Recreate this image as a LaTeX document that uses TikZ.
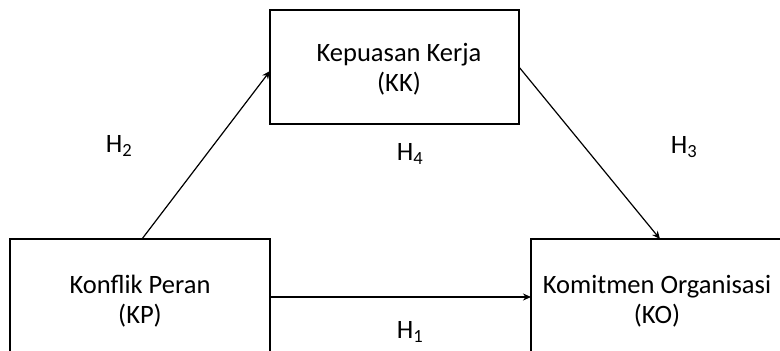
\documentclass[tikz,border=0pt]{standalone}
\usepackage{fontspec}
\setmainfont{Carlito}
\usetikzlibrary{arrows.meta}
\begin{document}
\begin{tikzpicture}[x=1pt,y=-1pt,
  box/.style={draw=black,line width=1.3pt,fill=white},
  lbl/.style={font=\fontsize{26.5}{30}\selectfont,align=center,inner sep=0pt},
  hyp/.style={font=\fontsize{26.5}{30}\selectfont,inner sep=0pt},
  conn/.style={line width=1.2pt,-{Stealth[length=8pt,width=7pt]}}]
\useasboundingbox (0,0) rectangle (780,351);
\clip (0,0) rectangle (780,351);
\draw[box] (270,10) rectangle (519,124);
\draw[box] (10,239) rectangle (270,400);
\draw[box] (531,239) rectangle (820,400);
\node[lbl] (kkt) at (399,69) {Kepuasan Kerja\\(KK)};
\node[lbl] (kpt) at (140,301) {Konflik Peran\\(KP)};
\node[lbl] (kot) at (657,301) {Komitmen Organisasi\\(KO)};
\coordinate (kpTop) at (142,239);
\coordinate (kkLeft) at (270,71);
\coordinate (kkRight) at (519,67);
\coordinate (koTop) at (660,239);
\coordinate (kpRight) at (270,297);
\coordinate (koLeft) at (531,297);
\draw[conn] (kpTop) -- (kkLeft);
\draw[conn] (kkRight) -- (koTop);
\draw[conn] (kpRight) -- (koLeft);
\node[hyp] (h2) at (119,146) {H\textsubscript{2}};
\node[hyp] (h4) at (410,154) {H\textsubscript{4}};
\node[hyp] (h3) at (684,147) {H\textsubscript{3}};
\node[hyp] (h1) at (410,332) {H\textsubscript{1}};
\end{tikzpicture}
\end{document}
